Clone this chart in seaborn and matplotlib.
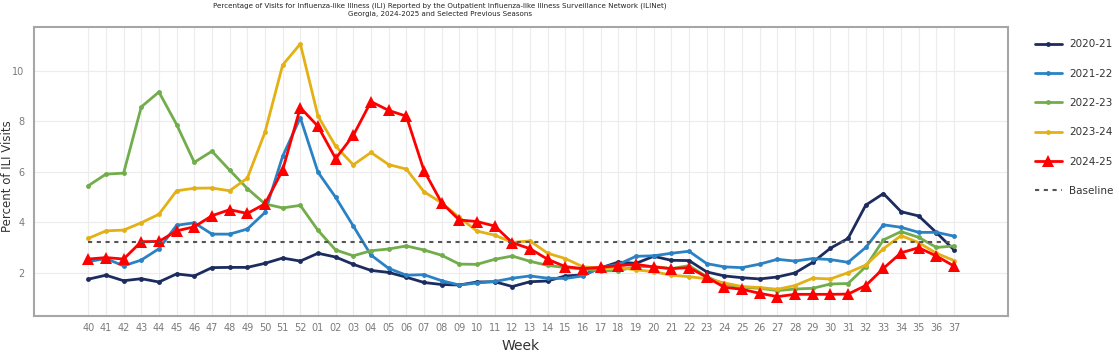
import pandas as pd
import matplotlib
matplotlib.use("Agg")
import matplotlib.pyplot as plt
import seaborn as sns

# week labels (season runs week 40 -> week 37 of next year)
weeks = [str(w) for w in range(40, 53)] + ["%02d" % w for w in range(1, 38)]

s2020_21 = [1.74, 1.90, 1.68, 1.76, 1.63, 1.95, 1.87, 2.20, 2.21, 2.21, 2.37, 2.58, 2.46,
            2.77, 2.62, 2.33, 2.09, 2.01, 1.82, 1.61, 1.53, 1.51, 1.63, 1.64, 1.45, 1.64,
            1.67, 1.87, 1.91, 2.19, 2.42, 2.37, 2.65, 2.49, 2.48, 2.03, 1.87, 1.80, 1.75,
            1.83, 1.99, 2.41, 2.97, 3.36, 4.68, 5.14, 4.42, 4.25, 3.59, 2.90]
s2021_22 = [2.44, 2.56, 2.27, 2.50, 2.95, 3.88, 3.98, 3.53, 3.53, 3.73, 4.39, 6.62, 8.15,
            5.99, 4.99, 3.85, 2.70, 2.17, 1.90, 1.92, 1.68, 1.51, 1.59, 1.65, 1.78, 1.87,
            1.78, 1.77, 1.87, 2.21, 2.33, 2.65, 2.67, 2.77, 2.85, 2.36, 2.23, 2.20, 2.34,
            2.53, 2.46, 2.56, 2.52, 2.41, 3.00, 3.90, 3.80, 3.60, 3.60, 3.45]
s2022_23 = [5.45, 5.91, 5.95, 8.58, 9.17, 7.88, 6.38, 6.82, 6.07, 5.34, 4.73, 4.57, 4.67,
            3.68, 2.90, 2.67, 2.87, 2.94, 3.06, 2.90, 2.69, 2.34, 2.33, 2.53, 2.66, 2.45,
            2.29, 2.20, 2.15, 2.07, 2.08, 2.24, 2.24, 2.16, 2.28, 1.84, 1.54, 1.42, 1.38,
            1.29, 1.35, 1.38, 1.55, 1.57, 2.24, 3.30, 3.63, 3.40, 3.00, 3.06]
s2023_24 = [3.36, 3.66, 3.69, 3.98, 4.32, 5.25, 5.35, 5.36, 5.25, 5.75, 7.57, 10.24, 11.08,
            8.22, 7.02, 6.28, 6.77, 6.29, 6.11, 5.21, 4.77, 4.19, 3.65, 3.49, 3.20, 3.26,
            2.77, 2.56, 2.23, 2.19, 2.21, 2.11, 2.04, 1.90, 1.84, 1.76, 1.59, 1.45, 1.41,
            1.34, 1.49, 1.78, 1.75, 2.00, 2.30, 2.95, 3.47, 3.19, 2.77, 2.48]
s2024_25 = [2.54, 2.60, 2.54, 3.23, 3.24, 3.66, 3.82, 4.26, 4.50, 4.35, 4.73, 6.07, 8.55,
            7.81, 6.53, 7.45, 8.79, 8.44, 8.21, 6.05, 4.77, 4.09, 4.03, 3.85, 3.19, 2.95,
            2.53, 2.24, 2.16, 2.21, 2.28, 2.33, 2.23, 2.16, 2.20, 1.82, 1.42, 1.34, 1.18,
            1.05, 1.14, 1.14, 1.14, 1.15, 1.49, 2.17, 2.79, 2.99, 2.66, 2.26]
baseline = 3.2

seasons = ["2020-21", "2021-22", "2022-23", "2023-24", "2024-25"]
values = [s2020_21, s2021_22, s2022_23, s2023_24, s2024_25]
colors = ["#1c2c5e", "#2a82c4", "#72ad4c", "#e3b116", "#ff0000"]

pos = list(range(len(weeks)))

sns.set_style("white")
plt.rcParams["font.family"] = ["DejaVu Sans"]

fig = plt.figure(figsize=(11.19, 3.53), dpi=100)
ax = fig.add_axes([0.0304, 0.1048, 0.8704, 0.8187])

for name, vals, col in zip(seasons, values, colors):
    if name == "2024-25":
        sns.lineplot(x=pos, y=vals, ax=ax, color=col, lw=2, marker="^",
                     markersize=9, markeredgewidth=0, label=name)
    else:
        sns.lineplot(x=pos, y=vals, ax=ax, color=col, lw=2, marker="o",
                     markersize=3.5, markeredgewidth=0, label=name)

sns.lineplot(x=pos, y=[baseline] * len(pos), ax=ax, color="#555555", lw=1.5,
             linestyle=(0, (2, 2.2)), label="Baseline")

ax.set_xlim(-3.07, 52.05)
ax.set_ylim(0.28, 11.75)
ax.set_xticks(pos)
ax.set_xticklabels(weeks)
ax.set_yticks([2, 4, 6, 8, 10])
ax.tick_params(axis="both", length=0, labelsize=7, colors="#7a7a7a")
ax.tick_params(axis="x", pad=5)
ax.tick_params(axis="y", pad=7)
ax.grid(True, color="#ececec", lw=0.8)
ax.set_axisbelow(True)
for sp in ax.spines.values():
    sp.set_color("#a6a6a6")
    sp.set_linewidth(1.5)

ax.set_xlabel("Week", fontsize=10, color="#333333", labelpad=4)
ax.set_ylabel("")
fig.text(7.5 / 1119, 0.5, "Percent of ILI Visits", rotation=90, ha="center", va="center",
         fontsize=8.5, color="#333333")

fig.text(0.393, 0.993,
         "Percentage of Visits for Influenza-like Illness (ILI) Reported by the Outpatient "
         "Influenza-like Illness Surveillance Network (ILINet)\n"
         "Georgia, 2024-2025 and Selected Previous Seasons",
         ha="center", va="top", fontsize=5.1, color="#222222", linespacing=1.45)

ax.legend(loc="upper left", bbox_to_anchor=(0.921, 0.90), bbox_transform=fig.transFigure,
          frameon=False, fontsize=7.5, handlelength=2.6, labelspacing=1.85,
          handletextpad=0.7, borderaxespad=0, labelcolor="#333333")

fig.savefig("out.png", dpi=100)
